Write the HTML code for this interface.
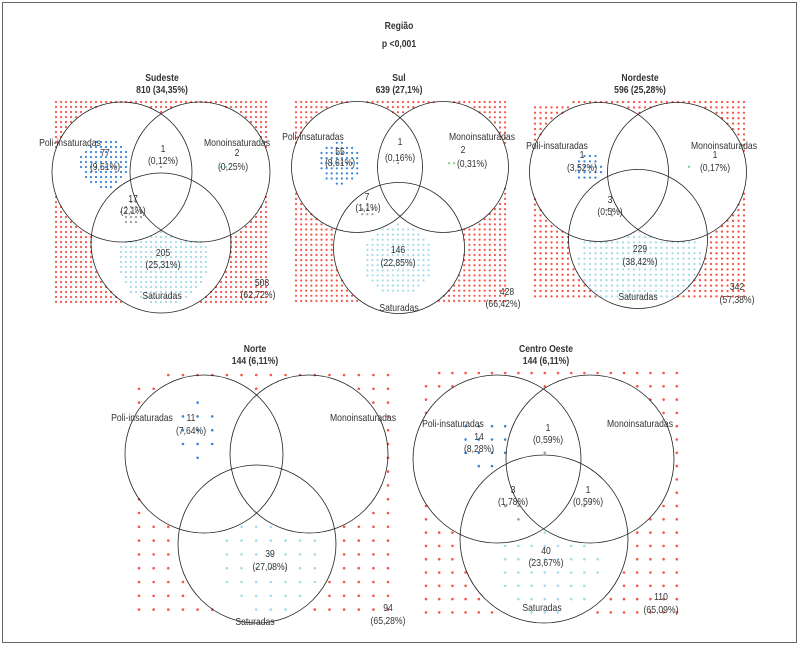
<!DOCTYPE html>
<html><head><meta charset="utf-8"><style>
html,body{margin:0;padding:0;background:#fff}
svg{display:block}
text{font-family:"Liberation Sans Narrow","Liberation Sans",sans-serif;fill:#333}
.t{font-weight:bold;font-size:10.5px}
.l{font-size:10.5px}
</style></head><body>
<svg id="chart" width="799" height="646" viewBox="0 0 799 646" xmlns="http://www.w3.org/2000/svg">
<rect x="2.5" y="2.5" width="794" height="640" fill="#fff" stroke="#666" stroke-width="1"/>
<text class="t" text-anchor="middle" transform="translate(399,29) scale(0.82,1)">Região</text>
<text class="t" text-anchor="middle" transform="translate(399,47) scale(0.82,1)">p &lt;0,001</text>
</svg>
<script>
// region order: none, poli-only, mono-only, sat-only, poli-mono, poli-sat, mono-sat, all
const panelNames = ["Sudeste","Sul","Nordeste","Norte","Centro Oeste"];
const panelTotals = ["810 (34,35%)","639 (27,1%)","596 (25,28%)","144 (6,11%)","144 (6,11%)"];
const countsSudeste = [508,77,2,205,1,17,0,0];
const countsSul = [428,55,2,146,1,7,0,0];
const countsNordeste = [342,21,1,229,0,3,0,0];
const countsNorte = [94,11,0,39,0,0,0,0];
const countsCentroOeste = [110,14,0,40,1,3,1,0];
const regionCounts = [countsSudeste,countsSul,countsNordeste,countsNorte,countsCentroOeste];

const regionColors = ["#f4564a","#3a86d6","#7fcf8a","#a6dbe9","#999","#999","#999","#999"];

// layout (pixels)
const layout = [
 {cx:162,ty:81,gx:56,gy:102,sx:5,sy:5,nc:43,nr:41,r:70,c:[[122,172],[200,172],[161,243]],dot:1.1,
  lab:[[70,146,"Poli-insaturadas"],[237,146,"Monoinsaturadas"],[162,299,"Saturadas"]],
  vals:[[262,286,"508"],[258,298,"(62,72%)"],[105,156,"77"],[105,170,"(9,51%)"],[237,156,"2"],[233,170,"(0,25%)"],[163,152,"1"],[163,164,"(0,12%)"],[133,202,"17"],[133,214,"(2,1%)"],[163,256,"205"],[163,268,"(25,31%)"]],
  ctr:[[0,0],[105,163],[225,167],[163,260],[163,168],[133,212],[0,0],[0,0]]},
 {cx:399,ty:81,gx:296,gy:102,sx:5.1,sy:5.1,nc:42,nr:40,r:65.5,c:[[357,167],[443,167],[399,248]],dot:1.1,
  lab:[[313,140,"Poli-insaturadas"],[482,140,"Monoinsaturadas"],[399,311,"Saturadas"]],
  vals:[[507,295,"428"],[503,307,"(66,42%)"],[340,155,"55"],[340,166,"(8,61%)"],[463,153,"2"],[472,167,"(0,31%)"],[400,145,"1"],[400,161,"(0,16%)"],[367,200,"7"],[368,211,"(1,1%)"],[398,253,"146"],[398,266,"(22,85%)"]],
  ctr:[[0,0],[340,163],[452,163],[398,260],[400,162],[368,211],[0,0],[0,0]]},
 {cx:640,ty:81,gx:535,gy:102,sx:5.5,sy:5.4,nc:39,nr:37,r:69.5,c:[[599,172],[677,172],[638,239]],dot:1.15,
  lab:[[557,149,"Poli-insaturadas"],[724,149,"Monoinsaturadas"],[638,300,"Saturadas"]],
  vals:[[737,290,"342"],[737,303,"(57,38%)"],[582,158,"1"],[582,171,"(3,52%)"],[715,158,"1"],[715,171,"(0,17%)"],[610,203,"3"],[610,215,"(0,5%)"],[640,252,"229"],[640,265,"(38,42%)"]],
  ctr:[[0,0],[588,167],[688,165],[640,262],[0,0],[610,212],[0,0],[0,0]]},
 {cx:255,ty:352,gx:139,gy:375,sx:14.65,sy:13.8,nc:18,nr:18,r:79,c:[[204,454],[309,454],[257,544]],dot:1.3,
  lab:[[142,421,"Poli-insaturadas"],[363,421,"Monoinsaturadas"],[255,625,"Saturadas"]],
  vals:[[388,611,"94"],[388,624,"(65,28%)"],[191,421,"11"],[191,434,"(7,64%)"],[270,557,"39"],[270,570,"(27,08%)"]],
  ctr:[[0,0],[198,430],[0,0],[270,565],[0,0],[0,0],[0,0],[0,0]]},
 {cx:546,ty:352,gx:426,gy:373,sx:13.2,sy:13.3,nc:20,nr:19,r:84,c:[[497,459],[590,459],[544,539]],dot:1.3,
  lab:[[453,427,"Poli-insaturadas"],[640,427,"Monoinsaturadas"],[542,611,"Saturadas"]],
  vals:[[661,600,"110"],[661,613,"(65,09%)"],[479,440,"14"],[479,452,"(8,28%)"],[548,431,"1"],[548,443,"(0,59%)"],[513,493,"3"],[513,505,"(1,78%)"],[588,493,"1"],[588,505,"(0,59%)"],[546,554,"40"],[546,566,"(23,67%)"]],
  ctr:[[0,0],[485,445],[0,0],[546,566],[548,452],[513,508],[588,505],[0,0]]}
];

const NS="http://www.w3.org/2000/svg";
const svg=document.getElementById('chart');
function mk(tag,attrs,parent){const e=document.createElementNS(NS,tag);for(const k in attrs)e.setAttribute(k,attrs[k]);(parent||svg).appendChild(e);return e;}
function txt(x,y,cls,s,parent){const t=mk('text',{'text-anchor':'middle',class:cls,transform:'translate('+x+','+y+') scale(0.82,1)'},parent);t.textContent=s;return t;}
function regionOf(x,y,L){
  const ins=L.c.map(c=>Math.hypot(x-c[0],y-c[1])<L.r);
  const [p,m,s]=ins;
  if(p&&m&&s)return 7; if(m&&s)return 6; if(p&&s)return 5; if(p&&m)return 4;
  if(s)return 3; if(m)return 2; if(p)return 1; return 0;
}
const slug=["sudeste","sul","nordeste","norte","centro-oeste"];
const regSlug=["outside","poli-only","mono-only","sat-only","poli-mono","poli-sat","mono-sat","all-three"];
layout.forEach((L,pi)=>{
  const g=mk('g',{});
  
  
  const counts=regionCounts[pi];
  const pts=[[],[],[],[],[],[],[],[]];
  for(let row=L.nr-1;row>=0;row--){
    for(let col=L.nc-1;col>=0;col--){
      const x=L.gx+col*L.sx, y=L.gy+row*L.sy;
      pts[regionOf(x,y,L)].push([x,y]);
    }
  }
  for(let k=0;k<8;k++){
    let list=pts[k];
    if(k>0){const c=L.ctr[k];list=list.slice().sort((a,b)=>Math.hypot(a[0]-c[0],a[1]-c[1])-Math.hypot(b[0]-c[0],b[1]-c[1]));}
    const n=Math.min(counts[k],list.length);
    const dg=mk('g',{fill:regionColors[k]},g);
    
    
    for(let i=0;i<n;i++){
      const d=mk('circle',{cx:list[i][0],cy:list[i][1],r:L.dot},dg);
      
      
    }
  }
  const cn=["circle-poli","circle-mono","circle-sat"];
  L.c.forEach((c,i)=>{
    const ci=mk('circle',{cx:c[0],cy:c[1],r:L.r,fill:'none',stroke:'#222','stroke-width':0.8},g);
    
    
  });
  const t1=txt(L.cx,L.ty,'t',panelNames[pi],g);
  
  
  const t2=txt(L.cx,L.ty+12,'t',panelTotals[pi],g);
  
  
  L.lab.forEach(a=>{
    const t=txt(a[0],a[1],'l',a[2],g);
    
    
  });
  L.vals.forEach(a=>{
    const t=txt(a[0],a[1],'l',a[2],g);
    
    
  });
});
</script>
</body></html>
